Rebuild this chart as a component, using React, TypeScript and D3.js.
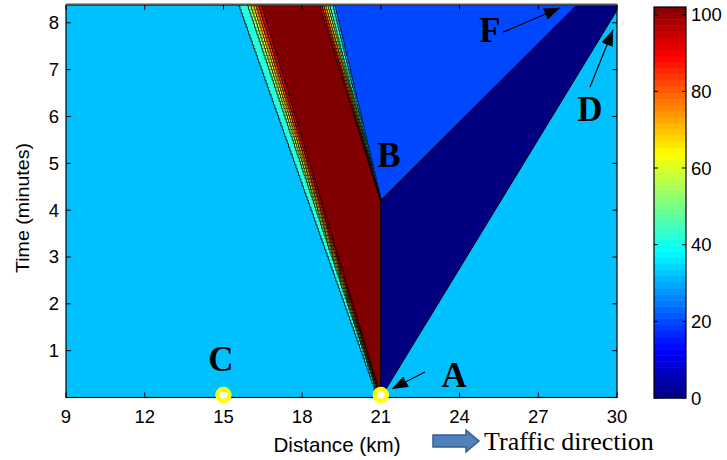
import React from "react";
import * as d3 from "d3";

// Axis ticks
const xTicks = [9, 12, 15, 18, 21, 24, 27, 30];
const yTicks = [1, 2, 3, 4, 5, 6, 7, 8];
const cbTicks = [0, 20, 40, 60, 80, 100];

// Domains (distance in km, time in minutes, density colour range)
const xDomain = [9, 30];
const tDomain = [0, 8.38];
const cDomain = [0, 102];

// Density field, described by its contour regions
const backgroundDensity = 32;
const bottleneckKm = 21;
const clearTime = 4.21;
const queueHeadTopKm = 19.15;
const recoveryTopKm = 28.47;
const recoveryDensity = 20;
const emptyDensity = 0;
const emptyEdgeEndKm = 30;
const emptyEdgeEndMin = 8.27;

// Jam fan: one contour band per level (value >= level inside)
const fanLevels = [42, 52, 62, 72, 82, 92, 102];
const fanLeftBottomKm = [20.85, 20.9, 20.92, 20.94, 20.96, 20.98, 21.0];
const fanLeftTopKm = [15.44, 15.78, 15.9, 16.0, 16.1, 16.2, 16.32];
const fanRightTopKm = [19.1, 18.98, 18.9, 18.82, 18.74, 18.66, 18.57];

// Grid spacing of the simulated field (contours follow its cells)
const gridMin = 0.075;

// Annotations
const labelText = ["A", "B", "C", "D", "F"];
const labelKm = [23.79, 21.31, 14.9, 28.97, 25.16];
const labelMin = [0.224, 4.92, 0.566, 5.9, 7.59];
const arrowFromKm = [22.68, 25.66, 28.97];
const arrowFromMin = [0.546, 7.8, 6.63];
const arrowToKm = [21.42, 27.83, 29.85];
const arrowToMin = [0.18, 8.32, 7.85];
const markerKm = [15, 21];
const markerMin = [0.053, 0.053];

function jet(v: number) {
  const t = (v - cDomain[0]) / (cDomain[1] - cDomain[0]);
  const c = (x: number) => Math.max(0, Math.min(1, x));
  return d3
    .rgb(
      255 * c(1.5 - Math.abs(4 * t - 3)),
      255 * c(1.5 - Math.abs(4 * t - 2)),
      255 * c(1.5 - Math.abs(4 * t - 1))
    )
    .formatHex();
}

// Stair-stepped edge between two points, snapped to the field grid rows
function stairEdge(a: number[], b: number[]) {
  const [x0, t0] = a;
  const [x1, t1] = b;
  const n = Math.max(1, Math.round(Math.abs(t1 - t0) / gridMin));
  const pts: number[][] = [];
  for (let i = 0; i < n; i++) {
    const ta = t0 + ((t1 - t0) * i) / n;
    const tb = t0 + ((t1 - t0) * (i + 1)) / n;
    const xa = x0 + ((x1 - x0) * i) / n;
    pts.push([xa, ta], [xa, tb]);
  }
  pts.push([x1, t1]);
  return pts;
}

const W = 727;
const H = 460;
const plot = { left: 66, right: 617, top: 5, bottom: 397.5 };
const cb = { left: 654, right: 686, top: 7, bottom: 398 };

export default function App() {
  const x = d3.scaleLinear().domain(xDomain).range([plot.left, plot.right]);
  const y = d3.scaleLinear().domain(tDomain).range([plot.bottom, plot.top]);
  const cy = d3.scaleLinear().domain(cDomain).range([cb.bottom, cb.top]);
  const line = d3
    .line<number[]>()
    .x((d) => x(d[0]))
    .y((d) => y(d[1]));
  const poly = (pts: number[][]) => line(pts) + "Z";
  const tTop = tDomain[1];
  const tOver = tTop + 0.2;

  // recovery wedge; its right side runs under the empty-road region
  const recovery = [
    ...stairEdge([bottleneckKm, clearTime], [queueHeadTopKm, tOver]),
    [xDomain[1], tOver],
    [xDomain[1], tTop],
  ];
  const empty = [
    [bottleneckKm, 0],
    [bottleneckKm, clearTime],
    [recoveryTopKm, tTop],
    [xDomain[1], tTop],
    [emptyEdgeEndKm, emptyEdgeEndMin],
  ];

  const serif = "'Liberation Serif', 'Times New Roman', serif";
  const sans = "'Liberation Sans', Arial, Helvetica, sans-serif";

  const cbStep = (cDomain[1] - cDomain[0]) / 64;
  const cbSteps = d3.range(64).map((i) => cDomain[0] + i * cbStep);

  return (
    <svg
      width={W}
      height={H}
      style={{ position: "absolute", left: 0, top: 0, background: "#fff" }}
    >
      <defs>
        <clipPath id="plotClip">
          <rect
            x={plot.left}
            y={plot.top}
            width={plot.right - plot.left}
            height={plot.bottom - plot.top}
          />
        </clipPath>
        <marker
          id="head"
          viewBox="0 0 16 12"
          refX="16"
          refY="6"
          markerWidth="16"
          markerHeight="12"
          markerUnits="userSpaceOnUse"
          orient="auto"
        >
          <path d="M0,0 L16,6 L0,12 Z" fill="#000" />
        </marker>
      </defs>

      <g clipPath="url(#plotClip)">
        <rect
          x={plot.left}
          y={plot.top}
          width={plot.right - plot.left}
          height={plot.bottom - plot.top}
          fill={jet(backgroundDensity)}
        />
        <path d={poly(recovery)} fill={jet(recoveryDensity)} stroke="#000" strokeWidth={0.8} />
        {fanLevels.map((lv, i) => (
          <path
            key={lv}
            d={poly([
              ...stairEdge([fanLeftBottomKm[i], 0], [fanLeftTopKm[i], tOver]),
              ...stairEdge([fanRightTopKm[i], tOver], [bottleneckKm, clearTime]),
              [bottleneckKm, 0],
            ])}
            fill={jet(lv)}
            stroke="#000"
            strokeWidth={0.8}
          />
        ))}
        <path d={poly(empty)} fill={jet(emptyDensity)} stroke="#000" strokeWidth={1} />
      </g>

      {/* axes frame */}
      <rect
        x={plot.left}
        y={plot.top}
        width={plot.right - plot.left}
        height={plot.bottom - plot.top}
        fill="none"
        stroke="#000"
        strokeWidth={1.2}
      />
      <line x1={plot.left} x2={plot.right} y1={plot.top - 0.5} y2={plot.top - 0.5} stroke="#555" strokeWidth={2} />

      {xTicks.map((t) => (
        <g key={"x" + t}>
          <line x1={x(t)} x2={x(t)} y1={plot.bottom} y2={plot.bottom - 5} stroke="#000" />
          <line x1={x(t)} x2={x(t)} y1={plot.top} y2={plot.top + 5} stroke="#000" />
          <text x={x(t)} y={423} textAnchor="middle" fontFamily={sans} fontSize={18.5} fill="#000">
            {t}
          </text>
        </g>
      ))}
      {yTicks.map((t) => (
        <g key={"y" + t}>
          <line x1={plot.left} x2={plot.left + 5} y1={y(t)} y2={y(t)} stroke="#000" />
          <line x1={plot.right} x2={plot.right - 5} y1={y(t)} y2={y(t)} stroke="#000" />
          <text x={59} y={y(t) + 6.5} textAnchor="end" fontFamily={sans} fontSize={18.5} fill="#000">
            {t}
          </text>
        </g>
      ))}

      <text
        transform="translate(29,208) rotate(-90)"
        textAnchor="middle"
        fontFamily={sans}
        fontSize={19}
        textLength={130}
        lengthAdjust="spacingAndGlyphs"
        fill="#000"
      >
        Time (minutes)
      </text>
      <text
        x={337}
        y={452}
        textAnchor="middle"
        fontFamily={sans}
        fontSize={21}
        textLength={127}
        lengthAdjust="spacingAndGlyphs"
        fill="#000"
      >
        Distance (km)
      </text>

      {/* traffic direction arrow */}
      <path
        d="M433,435 L466,435 L466,430 L479,441 L466,452 L466,447 L433,447 Z"
        fill="#4F81BD"
        stroke="#385D8A"
        strokeWidth={1.5}
      />
      <text x={484} y={450} fontFamily={serif} fontSize={26} fill="#000">
        Traffic direction
      </text>

      {/* annotation arrows */}
      {arrowFromKm.map((k, i) => (
        <line
          key={"a" + i}
          x1={x(k)}
          y1={y(arrowFromMin[i])}
          x2={x(arrowToKm[i])}
          y2={y(arrowToMin[i])}
          stroke="#000"
          strokeWidth={1.2}
          markerEnd="url(#head)"
        />
      ))}
      {labelText.map((s, i) => (
        <text
          key={s}
          x={x(labelKm[i])}
          y={y(labelMin[i])}
          textAnchor="middle"
          fontFamily={serif}
          fontWeight="bold"
          fontSize={35}
          fill="#000"
        >
          {s}
        </text>
      ))}
      {markerKm.map((k, i) => (
        <circle
          key={"m" + i}
          cx={x(k)}
          cy={y(markerMin[i])}
          r={6}
          fill="#fff"
          stroke="#FFFF00"
          strokeWidth={4.5}
        />
      ))}

      {/* colour bar */}
      {cbSteps.map((v) => (
        <rect
          key={"c" + v}
          x={cb.left}
          y={cy(v + cbStep)}
          width={cb.right - cb.left}
          height={cy(v) - cy(v + cbStep) + 0.5}
          fill={jet(v + cbStep / 2)}
        />
      ))}
      <rect
        x={cb.left}
        y={cb.top}
        width={cb.right - cb.left}
        height={cb.bottom - cb.top}
        fill="none"
        stroke="#000"
        strokeWidth={1.2}
      />
      {cbTicks.map((t) => (
        <g key={"cb" + t}>
          <line x1={cb.left} x2={cb.left + 4} y1={cy(t)} y2={cy(t)} stroke="#000" />
          <line x1={cb.right} x2={cb.right - 4} y1={cy(t)} y2={cy(t)} stroke="#000" />
          <text x={691} y={cy(t) + 6.5} fontFamily={sans} fontSize={18.5} fill="#000">
            {t}
          </text>
        </g>
      ))}
    </svg>
  );
}
